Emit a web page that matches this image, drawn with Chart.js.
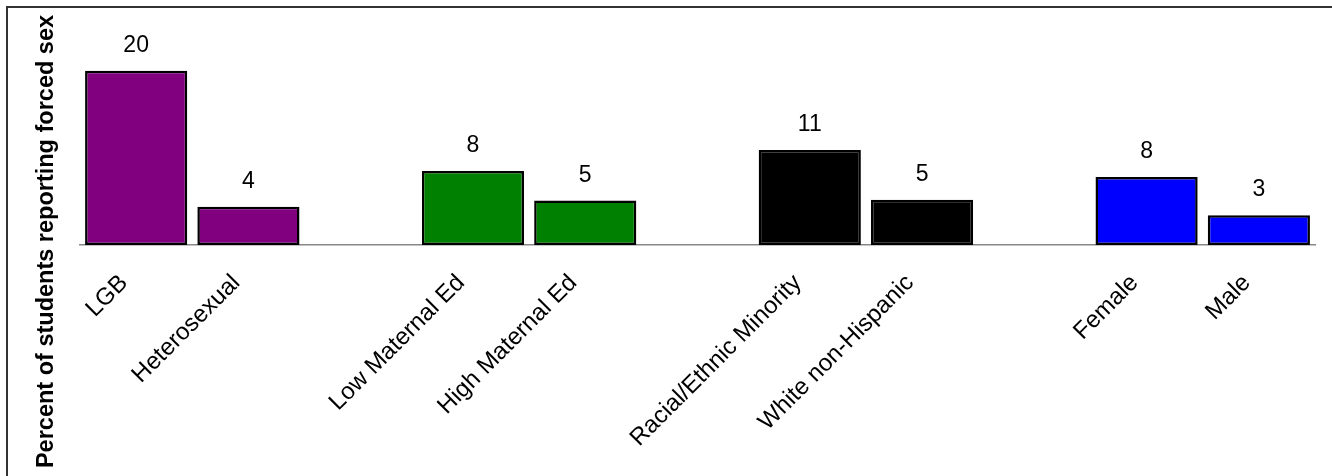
<!DOCTYPE html>
<html>
<head>
<meta charset="utf-8">
<script src="https://cdn.jsdelivr.net/npm/chart.js@4.4.1/dist/chart.umd.min.js"></script>
<style>
  html, body { margin: 0; padding: 0; background: #fff; }
  #wrap { position: relative; width: 1332px; height: 476px; overflow: hidden; }
  #frame { position: absolute; left: 6px; top: 6px; width: 1400px; height: 600px;
           border-left: 2px solid #333; border-top: 2px solid #333; pointer-events: none; }
  canvas { position: absolute; left: 0; top: 0; }
</style>
</head>
<body>
<div id="wrap">
  <canvas id="c" width="1332" height="476"></canvas>
  <div id="frame"></div>
</div>
<script>
// Categories (empty strings are spacers between groups)
const categories = ['LGB', 'Heterosexual', '', 'Low Maternal Ed', 'High Maternal Ed', '',
                    'Racial/Ethnic Minority', 'White non-Hispanic', '', 'Female', 'Male'];
// Percent of students reporting forced sex (bar heights)
const values = [20, 4.4, null, 8.5, 5.1, null, 10.9, 5.2, null, 7.8, 3.4];
// Displayed value labels
const valueLabels = ['20', '4', '', '8', '5', '', '11', '5', '', '8', '3'];
const barColors = ['#800080', '#800080', '#fff', '#008000', '#008000', '#fff',
                   '#000000', '#000000', '#fff', '#0000ff', '#0000ff'];
const yTitle = 'Percent of students reporting forced sex';

const valueLabelPlugin = {
  id: 'valueLabels',
  afterDatasetsDraw(chart) {
    const ctx = chart.ctx;
    const meta = chart.getDatasetMeta(0);
    ctx.save();
    ctx.font = '23px "Liberation Sans", Arial, sans-serif';
    ctx.fillStyle = '#000';
    ctx.textAlign = 'center';
    ctx.textBaseline = 'alphabetic';
    meta.data.forEach((el, i) => {
      if (values[i] === null) return;
      ctx.fillText(valueLabels[i], el.x, el.y - 19);
    });
    ctx.restore();
  }
};

new Chart(document.getElementById('c'), {
  type: 'bar',
  data: {
    labels: categories,
    datasets: [{
      data: values,
      backgroundColor: barColors,
      borderColor: '#000',
      borderWidth: 2.5,
      borderSkipped: false,
      barPercentage: 0.91,
      categoryPercentage: 1.0
    }]
  },
  options: {
    responsive: false,
    animation: false,
    devicePixelRatio: 1,
    layout: { padding: { top: 7, right: 17, bottom: 0, left: 0 } },
    plugins: {
      legend: { display: false },
      tooltip: { enabled: false },
      title: {
        display: true,
        position: 'left',
        text: yTitle,
        color: '#000',
        font: { family: '"Liberation Sans", Arial, sans-serif', size: 23.5, weight: 'bold', lineHeight: 1.15 },
        padding: { top: 33, bottom: 20 }
      }
    },
    scales: {
      x: {
        grid: { display: false },
        border: { display: true, color: '#888', width: 1.5 },
        ticks: {
          autoSkip: false,
          minRotation: 45,
          maxRotation: 45,
          padding: 16,
          labelOffset: -12,
          color: '#000',
          font: { family: '"Liberation Sans", Arial, sans-serif', size: 24 }
        },
        afterFit(scale) { scale.height = 231; }
      },
      y: {
        display: false,
        min: 0,
        max: 27.3
      }
    }
  },
  plugins: [valueLabelPlugin]
});
</script>
</body>
</html>
